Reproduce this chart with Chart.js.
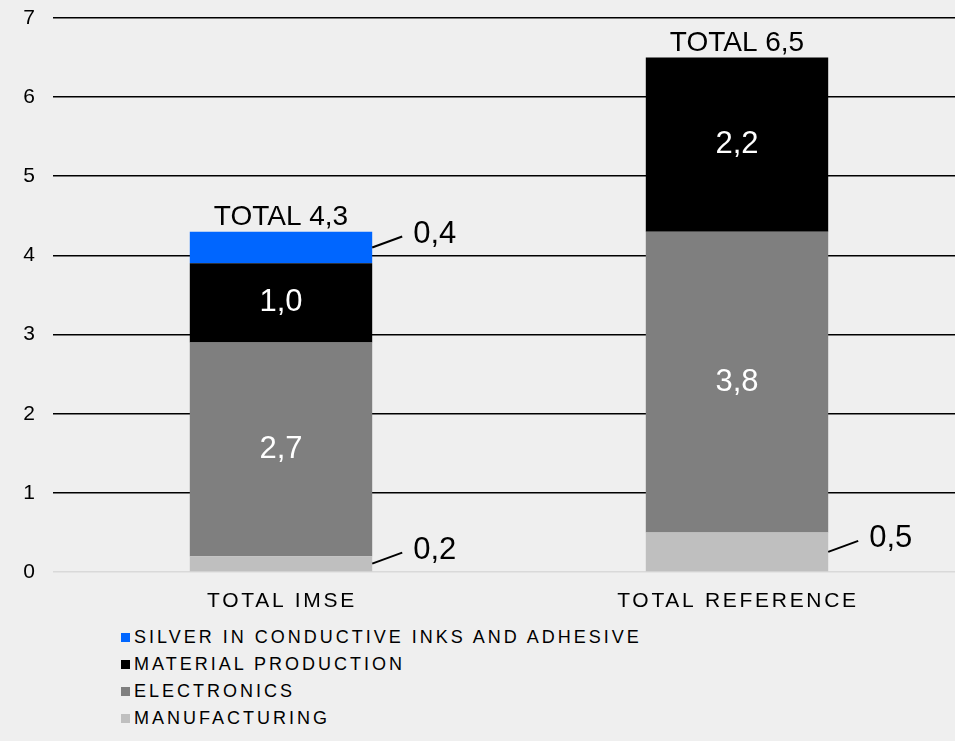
<!DOCTYPE html>
<html>
<head>
<meta charset="utf-8">
<script src="https://cdn.jsdelivr.net/npm/chart.js@4"></script>
<style>
  html, body { margin: 0; padding: 0; background: #efefef; overflow: hidden; }
  body { width: 955px; height: 741px; position: relative; font-family: "Liberation Sans", Arial, sans-serif; }
  #wrap { position: absolute; left: 0; top: 0; width: 965px; height: 620px; }
  #legend { position: absolute; left: 121px; top: 624px; }
  .item { height: 27px; display: flex; align-items: center; font-size: 18px; letter-spacing: 3px; color: #000; }
  .box { width: 9px; height: 9px; margin-right: 4px; }
</style>
</head>
<body>
<div id="wrap"><canvas id="chart"></canvas></div>
<div id="legend"></div>
<script>
const categories = ['TOTAL IMSE', 'TOTAL REFERENCE'];
const manufacturing = [0.2, 0.5];
const electronics = [2.7, 3.8];
const materialProduction = [1.0, 2.2];
const silver = [0.4, 0];
const yTicks = [0, 1, 2, 3, 4, 5, 6, 7];

const FONT = '"Liberation Sans", Arial, sans-serif';

const datasets = [
    { label: 'MANUFACTURING', data: manufacturing, backgroundColor: '#bfbfbf' },
    { label: 'ELECTRONICS', data: electronics, backgroundColor: '#7f7f7f' },
    { label: 'MATERIAL PRODUCTION', data: materialProduction, backgroundColor: '#000000' },
    { label: 'SILVER IN CONDUCTIVE INKS AND ADHESIVE', data: silver, backgroundColor: '#0066ff' }
];

function fmt(v) {
    return v.toFixed(1).replace('.', ',');
}

// value labels, leader lines, totals and spaced category labels
const labelsPlugin = {
    id: 'labels',
    afterDatasetsDraw(chart) {
        const ctx = chart.ctx;
        ctx.save();
        ctx.font = '31px ' + FONT;
        chart.data.datasets.forEach((ds, di) => {
            const meta = chart.getDatasetMeta(di);
            meta.data.forEach((bar, i) => {
                const v = ds.data[i];
                if (!v) return;
                const mid = (bar.y + bar.base) / 2;
                if (v >= 0.9) {
                    ctx.fillStyle = '#ffffff';
                    ctx.textAlign = 'center';
                    ctx.textBaseline = 'middle';
                    ctx.fillText(fmt(v), bar.x, mid);
                } else {
                    const right = bar.x + bar.width / 2;
                    ctx.strokeStyle = '#000';
                    ctx.lineWidth = 2;
                    ctx.beginPath();
                    ctx.moveTo(right, mid);
                    ctx.lineTo(right + 30, mid - 11);
                    ctx.stroke();
                    ctx.fillStyle = '#000';
                    ctx.textAlign = 'left';
                    ctx.textBaseline = 'middle';
                    ctx.fillText(fmt(v), right + 41, mid - 13);
                }
            });
        });
        // totals
        const yScale = chart.scales.y;
        const xScale = chart.scales.x;
        ctx.font = '28px ' + FONT;
        categories.forEach((c, i) => {
            const total = chart.data.datasets.reduce((s, ds) => s + ds.data[i], 0);
            ctx.fillStyle = '#000';
            ctx.textAlign = 'center';
            ctx.textBaseline = 'bottom';
            ctx.fillText('TOTAL ' + fmt(total), xScale.getPixelForValue(i), yScale.getPixelForValue(total));
        });
        // category labels
        ctx.font = '21px ' + FONT;
        ctx.letterSpacing = '2.7px';
        ctx.fillStyle = '#000';
        ctx.textBaseline = 'middle';
        categories.forEach((c, i) => {
            ctx.fillText(c, xScale.getPixelForValue(i) + 1, chart.chartArea.bottom + 29);
        });
        ctx.restore();
    }
};

const bgPlugin = {
    id: 'bg',
    beforeDraw(chart) {
        const ctx = chart.ctx;
        ctx.save();
        ctx.fillStyle = '#efefef';
        ctx.fillRect(0, 0, chart.width, chart.height);
        ctx.restore();
    }
};

new Chart(document.getElementById('chart'), {
    type: 'bar',
    data: { labels: categories, datasets: datasets },
    options: {
        responsive: true,
        maintainAspectRatio: false,
        animation: false,
        layout: { padding: { top: 18, left: 0, right: 0, bottom: 0 } },
        datasets: { bar: { categoryPercentage: 1, barPercentage: 0.4 } },
        plugins: {
            legend: { display: false },
            tooltip: { enabled: false }
        },
        scales: {
            x: {
                stacked: true,
                grid: { display: false },
                border: { display: false },
                ticks: { display: false },
                afterFit(scale) { scale.height = 48; }
            },
            y: {
                stacked: true,
                min: 0,
                max: 7,
                afterBuildTicks(scale) { scale.ticks = yTicks.map(v => ({ value: v })); },
                afterFit(scale) {
                    scale.width = 53;
                    scale.paddingTop = 0;
                    scale.paddingBottom = 0;
                },
                border: { display: false },
                grid: {
                    drawTicks: false,
                    lineWidth: 1.6,
                    color: ctx => ctx.tick && ctx.tick.value === 0 ? '#d9d9d9' : '#000000'
                },
                ticks: {
                    padding: 18,
                    color: '#000',
                    font: { family: FONT, size: 21 }
                }
            }
        }
    },
    plugins: [bgPlugin, labelsPlugin]
});

// legend, top item first
const legend = document.getElementById('legend');
datasets.slice().reverse().forEach(ds => {
    const row = document.createElement('div');
    row.className = 'item';
    row.innerHTML = '<span class="box" style="background:' + ds.backgroundColor + '"></span>' + ds.label;
    legend.appendChild(row);
});
</script>
</body>
</html>
